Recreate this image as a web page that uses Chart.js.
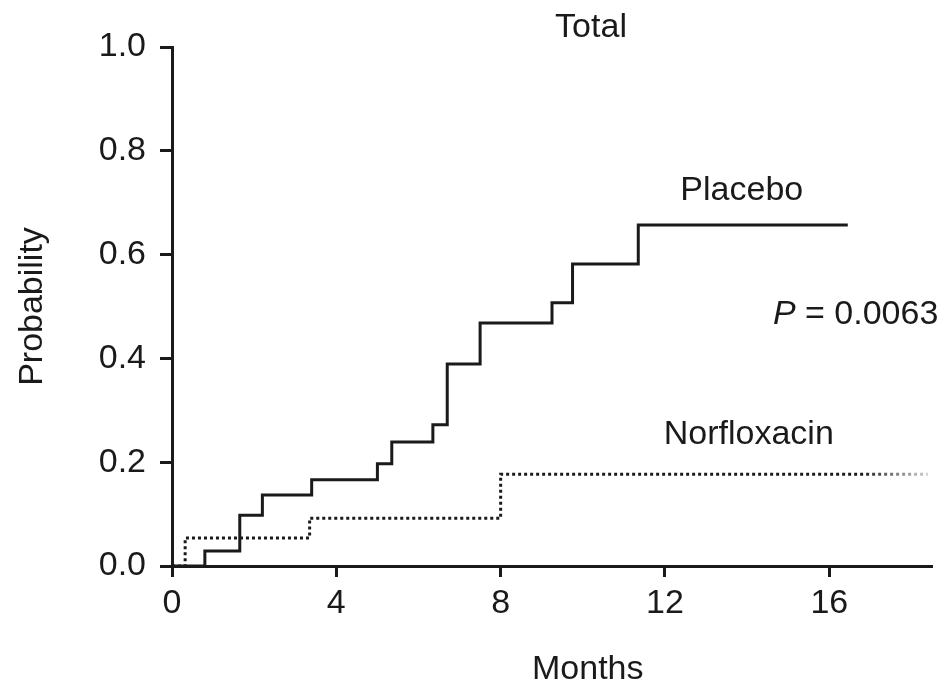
<!DOCTYPE html>
<html>
<head>
<meta charset="utf-8">
<script src="https://cdn.jsdelivr.net/npm/chart.js@4.4.1/dist/chart.umd.min.js"></script>
<style>
  html, body { margin: 0; padding: 0; background: #fff; }
  #wrap { width: 949px; height: 691px; }
</style>
</head>
<body>
<div id="wrap"><canvas id="km"></canvas></div>
<script>
// cumulative probability (months, probability)
const placeboMonths = [0, 0.8, 1.65, 2.2, 3.4, 5.0, 5.35, 6.35, 6.7, 7.5, 9.25, 9.75, 11.35, 16.45];
const placeboProb   = [0, 0.029, 0.098, 0.137, 0.166, 0.197, 0.239, 0.272, 0.389, 0.468, 0.507, 0.582, 0.657, 0.657];
const norfloxMonths = [0, 0.32, 3.35, 8.0, 18.4];
const norfloxProb   = [0, 0.054, 0.092, 0.177, 0.177];
const xTicks = [0, 4, 8, 12, 16];
const yTicks = [0, 0.2, 0.4, 0.6, 0.8, 1.0];

const FONT = "'Liberation Sans', Arial, Helvetica, sans-serif";
const INK = "#1a1a1a";

function pts(xs, ys) {
  return xs.map((x, i) => ({ x, y: ys[i] }));
}

// free text placed in data units
const notes = [
  { parts: [["normal", "Total"]], x: 10.2, y: 1.037 },
  { parts: [["normal", "Placebo"]], x: 13.87, y: 0.724 },
  { parts: [["italic", "P"], ["normal", " = 0.0063"]], x: 16.64, y: 0.484 },
  { parts: [["normal", "Norfloxacin"]], x: 14.04, y: 0.254 },
  { parts: [["normal", "Months"]], x: 10.12, y: -0.2 }
];

const notePlugin = {
  id: "notes",
  afterDraw(chart) {
    const { ctx, scales } = chart;
    ctx.save();
    ctx.fillStyle = INK;
    ctx.textBaseline = "middle";
    ctx.textAlign = "left";
    notes.forEach(n => {
      let total = 0;
      n.parts.forEach(p => {
        ctx.font = p[0] + " 34px " + FONT;
        total += ctx.measureText(p[1]).width;
      });
      let px = scales.x.getPixelForValue(n.x) - total / 2;
      const py = scales.y.getPixelForValue(n.y);
      n.parts.forEach(p => {
        ctx.font = p[0] + " 34px " + FONT;
        ctx.fillText(p[1], px, py);
        px += ctx.measureText(p[1]).width;
      });
    });
    ctx.restore();
  }
};

// dotted curve fades out at the far right like the scan
function fadeColor(context) {
  const chart = context.chart;
  const area = chart.chartArea;
  if (!area) return INK;
  const x0 = chart.scales.x.getPixelForValue(16.8);
  const x1 = chart.scales.x.getPixelForValue(18.4);
  const g = chart.ctx.createLinearGradient(x0, 0, x1, 0);
  g.addColorStop(0, INK);
  g.addColorStop(1, "rgba(60,60,60,0.25)");
  return g;
}

new Chart(document.getElementById("km"), {
  type: "line",
  data: {
    datasets: [
      {
        label: "Placebo",
        data: pts(placeboMonths, placeboProb),
        stepped: true,
        borderColor: INK,
        borderWidth: 3,
        pointRadius: 0,
        fill: false
      },
      {
        label: "Norfloxacin",
        data: pts(norfloxMonths, norfloxProb),
        stepped: true,
        borderColor: fadeColor,
        borderWidth: 3,
        borderDash: [3, 3],
        pointRadius: 0,
        fill: false
      }
    ]
  },
  options: {
    responsive: true,
    maintainAspectRatio: false,
    animation: false,
    layout: { padding: { top: 47, right: 17, left: 0, bottom: 0 } },
    plugins: {
      legend: { display: false },
      tooltip: { enabled: false }
    },
    scales: {
      x: {
        type: "linear",
        min: 0,
        max: 18.5,
        afterBuildTicks: s => { s.ticks = xTicks.map(v => ({ value: v })); },
        afterFit: s => { s.height = 125; },
        border: { color: INK, width: 3 },
        grid: { drawOnChartArea: false, drawTicks: true, tickLength: 11, tickWidth: 3, tickColor: INK },
        ticks: { color: INK, padding: 6, maxRotation: 0, font: { family: FONT, size: 34 } }
      },
      y: {
        type: "linear",
        min: 0,
        max: 1.0,
        afterBuildTicks: s => { s.ticks = yTicks.map(v => ({ value: v })); },
        afterFit: s => { s.width = 172; },
        border: { color: INK, width: 3 },
        grid: { drawOnChartArea: false, drawTicks: true, tickLength: 12, tickWidth: 3, tickColor: INK },
        ticks: {
          color: INK,
          padding: 14,
          font: { family: FONT, size: 34 },
          callback: v => v.toFixed(1)
        },
        title: {
          display: true,
          text: "Probability",
          color: INK,
          padding: { top: 12, bottom: 0 },
          font: { family: FONT, size: 34 }
        }
      }
    }
  },
  plugins: [notePlugin]
});
</script>
</body>
</html>
